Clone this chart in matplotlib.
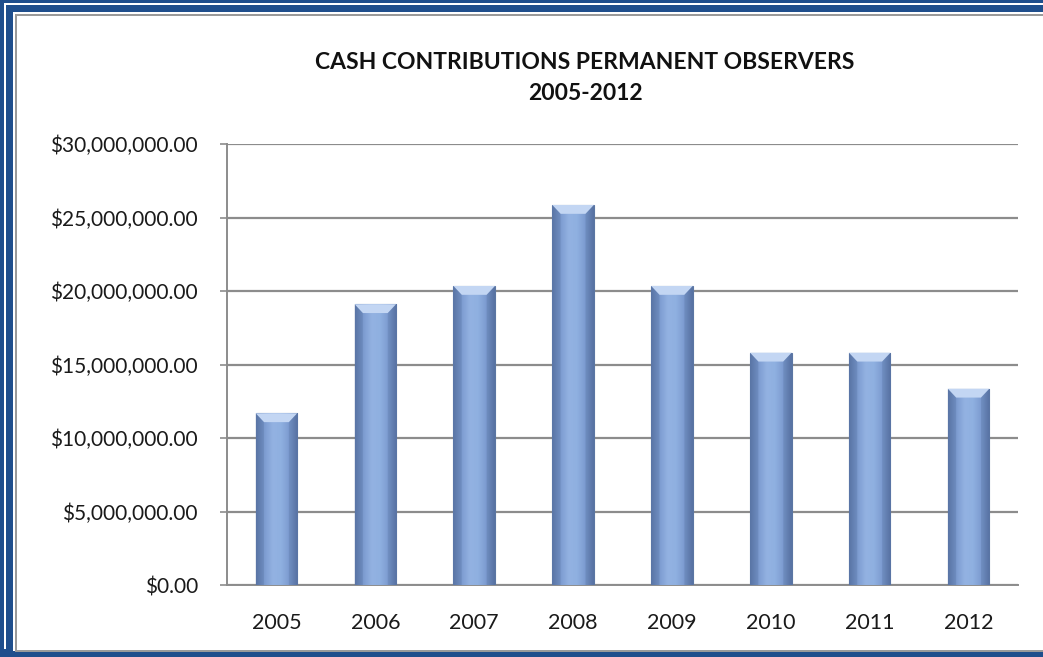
import numpy as np
import matplotlib
matplotlib.use("Agg")
import matplotlib.pyplot as plt
from matplotlib.patches import Rectangle, Polygon
from matplotlib.colors import LinearSegmentedColormap
from matplotlib.ticker import FuncFormatter, MultipleLocator

years = ["2005", "2006", "2007", "2008", "2009", "2010", "2011", "2012"]
values = [11.68e6, 19.1e6, 20.34e6, 25.85e6, 20.34e6, 15.8e6, 15.8e6, 13.35e6]
title_text = "CASH CONTRIBUTIONS PERMANENT OBSERVERS\n2005-2012"

plt.rcParams['font.family'] = ['Lato', 'DejaVu Sans']

W, H = 1043, 657
fig = plt.figure(figsize=(W / 100, H / 100), dpi=100)
fig.patch.set_facecolor("white")

def frect(x0, y0, x1, y1, color):
    # pixel coords from top-left
    fig.add_artist(Rectangle((x0 / W, 1 - y1 / H), (x1 - x0) / W, (y1 - y0) / H,
                             transform=fig.transFigure, facecolor=color,
                             edgecolor="none", zorder=-10))

blue = "#1f4e8c"
# outer frame
frect(0, 0, W, H, blue)
frect(4, 3, W + 5, H - 8, "white")
frect(6, 5, W + 5, H - 6, blue)
frect(13, 12, W + 5, H - 6, "white")
frect(15, 14, W + 5, H - 5, "#9a9a9a")
frect(17, 16, W + 5, H - 7, "white")

ax = fig.add_axes([227 / W, (H - 585) / H, (1018 - 227) / W, (585 - 144) / H])
ax.set_facecolor("none")
ax.set_zorder(1)

x = np.arange(len(years))
bw = 0.42
bars = ax.bar(x, values, width=bw, color="#7f9fd0", edgecolor="#5b76a3",
              linewidth=0.8, zorder=3)

cmap = LinearSegmentedColormap.from_list(
    "bar", ["#5d79aa", "#7c9bd0", "#93b2e2", "#8fb0e0", "#7c9bd0", "#5a75a5"])
grad = np.linspace(0, 1, 64)[None, :]
for xi, v, b in zip(x, values, bars):
    im = ax.imshow(grad, extent=[xi - bw / 2, xi + bw / 2, 0, v], cmap=cmap,
                   aspect="auto", zorder=3.5, interpolation="bicubic")
    im.set_clip_path(b)
    # bevel at top
    dy = 0.6e6
    dx = bw * 0.2
    ax.add_patch(Polygon([[xi - bw / 2, v], [xi + bw / 2, v],
                          [xi + bw / 2 - dx, v - dy], [xi - bw / 2 + dx, v - dy]],
                         closed=True, facecolor="#c3d6f3", edgecolor="none",
                         zorder=4))
    ax.add_patch(Polygon([[xi - bw / 2, v], [xi - bw / 2 + dx, v - dy],
                          [xi - bw / 2 + dx, 0], [xi - bw / 2, 0]],
                         closed=True, facecolor="#4f6a99", alpha=0.25,
                         edgecolor="none", zorder=4))
    ax.add_patch(Polygon([[xi + bw / 2, v], [xi + bw / 2 - dx, v - dy],
                          [xi + bw / 2 - dx, 0], [xi + bw / 2, 0]],
                         closed=True, facecolor="#4f6a99", alpha=0.25,
                         edgecolor="none", zorder=4))

ax.set_xlim(-0.5, len(years) - 0.5)
ax.set_ylim(0, 30e6)
ax.yaxis.set_major_locator(MultipleLocator(5e6))
ax.yaxis.set_major_formatter(FuncFormatter(lambda v, p: "${:,.2f}".format(v)))
ax.set_xticks(x)
ax.set_xticklabels(years)
ax.grid(axis="y", color="#8c8c8c", linewidth=1.6, zorder=0)
ax.set_axisbelow(True)
for s in ["top", "right"]:
    ax.spines[s].set_visible(False)
for s in ["left", "bottom"]:
    ax.spines[s].set_color("#8c8c8c")
    ax.spines[s].set_linewidth(1.4)
ax.tick_params(axis="y", length=5, width=1.2, color="#8c8c8c", labelsize=15,
               labelcolor="#1a1a1a", pad=16)
ax.tick_params(axis="x", length=0, labelsize=15.5, labelcolor="#1a1a1a", pad=20)

fig.text(585 / W, 1 - 78 / H, title_text, ha="center", va="center",
         fontsize=16.5, fontweight="bold", color="#111111", linespacing=1.6)

fig.savefig("out.png", dpi=100)
